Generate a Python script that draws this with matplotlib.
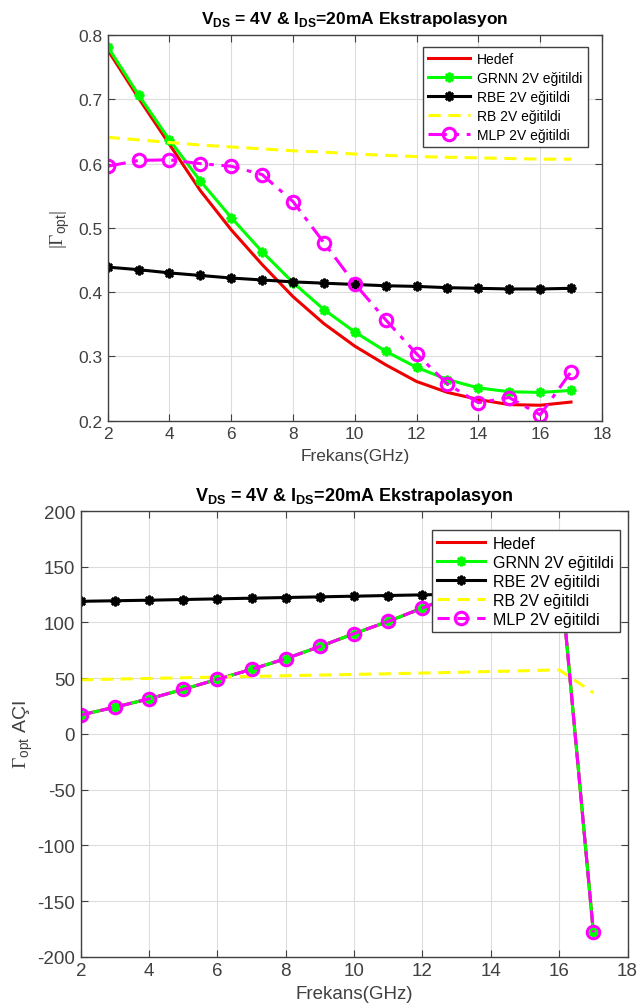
import numpy as np
import matplotlib
matplotlib.use("Agg")
import matplotlib.pyplot as plt

plt.rcParams['font.family'] = ['Liberation Sans', 'DejaVu Sans']
plt.rcParams['mathtext.fontset'] = 'custom'
plt.rcParams['mathtext.rm'] = 'Liberation Serif'
plt.rcParams['mathtext.sf'] = 'Liberation Sans'
plt.rcParams['mathtext.bf'] = 'Liberation Sans:bold'
plt.rcParams['axes.unicode_minus'] = False

freq = np.arange(2, 18)  # 2..17 GHz

# |Gamma_opt|
mag_hedef = [0.777, 0.702, 0.630, 0.558, 0.497, 0.443, 0.393, 0.351,
             0.316, 0.287, 0.261, 0.244, 0.233, 0.225, 0.224, 0.229]
mag_grnn = [0.782, 0.707, 0.637, 0.573, 0.516, 0.463, 0.415, 0.373,
            0.338, 0.308, 0.283, 0.264, 0.251, 0.245, 0.244, 0.247]
mag_rbe = [0.439, 0.435, 0.430, 0.426, 0.422, 0.419, 0.416, 0.414,
           0.412, 0.410, 0.409, 0.407, 0.406, 0.405, 0.405, 0.406]
mag_rb = [0.641, 0.637, 0.633, 0.629, 0.626, 0.623, 0.620, 0.618,
          0.615, 0.613, 0.611, 0.610, 0.609, 0.608, 0.607, 0.607]
mag_mlp = [0.596, 0.605, 0.606, 0.600, 0.596, 0.583, 0.541, 0.477,
           0.413, 0.357, 0.304, 0.257, 0.228, 0.236, 0.209, 0.276]

# Gamma_opt angle (degrees)
ang_hedef = [17, 24, 31.5, 40, 49, 58, 67.5, 78.5, 90, 101, 113, 125, 137, 148, 155, -178]
ang_grnn = [17, 24, 31.5, 40, 49, 58, 67.5, 78.5, 90, 101, 113, 125, 137, 148, 155, -178]
ang_rbe = [119, 119.5, 120, 120.6, 121.2, 121.8, 122.4, 123, 123.6, 124.2, 124.8,
           125.4, 126, 126.6, 127.2, 127.8]
ang_rb = [48.5, 49.2, 49.8, 50.4, 51.0, 51.6, 52.2, 52.8, 53.4, 54.0, 54.6,
          55.3, 56.0, 56.7, 57.5, 37]
ang_mlp = [17, 24, 31.5, 40, 49, 58, 67.5, 78.5, 90, 101, 113, 125, 137, 148, 155, -178]

labels = ['Hedef', 'GRNN 2V eğitildi', 'RBE 2V eğitildi', 'RB 2V eğitildi', 'MLP 2V eğitildi']
title = r'$\mathbf{V}_{\mathbf{DS}}$ = 4V & $\mathbf{I}_{\mathbf{DS}}$=20mA Ekstrapolasyon'
axcol = '#404040'
star = (8, 2, 0)


def style_axes(ax, fs):
    ax.grid(True, color='#dcdcdc', linewidth=0.8)
    ax.set_axisbelow(True)
    ax.tick_params(direction='in', top=True, right=True, labelsize=fs, colors=axcol,
                   length=5, pad=4)
    for s in ax.spines.values():
        s.set_color(axcol)
        s.set_linewidth(1.0)


def draw(ax, ys, mlp_ls, ms):
    ax.plot(freq, ys[0], color='#ee0000', lw=2.2, label=labels[0])
    ax.plot(freq, ys[1], color='#00ff00', lw=2.2, marker=star, ms=ms, mew=1.8,
            label=labels[1])
    ax.plot(freq, ys[2], color='black', lw=2.2, marker=star, ms=ms, mew=1.8,
            label=labels[2])
    ax.plot(freq, ys[3], color='yellow', lw=2.2, ls=(0, (4, 2.5)), label=labels[3])
    ax.plot(freq, ys[4], color='magenta', lw=2.2, ls=mlp_ls, marker='o', ms=9,
            mfc='none', mew=2.2, label=labels[4])


fig = plt.figure(figsize=(6.41, 10.04), dpi=100)

ax1 = fig.add_axes([0.168, 0.580, 0.771, 0.384])
draw(ax1, [mag_hedef, mag_grnn, mag_rbe, mag_rb, mag_mlp], (0, (6, 2.5, 1.5, 2.5)), 7)
ax1.set_xlim(2, 18)
ax1.set_ylim(0.2, 0.8)
ax1.set_xticks(np.arange(2, 19, 2))
ax1.set_yticks(np.arange(0.2, 0.81, 0.1))
style_axes(ax1, 12.5)
ax1.set_title(title, fontsize=12.5, fontweight='bold', pad=9)
ax1.set_xlabel('Frekans(GHz)', fontsize=12.5, color=axcol, labelpad=5)
ax1.set_ylabel(r'$|\Gamma_{\mathsf{opt}}|$', fontsize=14, color=axcol, labelpad=4)
ax1.legend(loc='upper right', fontsize=10, frameon=True, fancybox=False,
           edgecolor='#404040', framealpha=1, handlelength=3.0,
           borderpad=0.4, labelspacing=0.35, handletextpad=0.5,
           bbox_to_anchor=(0.986, 0.988))

ax2 = fig.add_axes([0.126, 0.046, 0.853, 0.444])
draw(ax2, [ang_hedef, ang_grnn, ang_rbe, ang_rb, ang_mlp], (0, (4, 2.5)), 7)
ax2.set_xlim(2, 18)
ax2.set_ylim(-200, 200)
ax2.set_xticks(np.arange(2, 19, 2))
ax2.set_yticks(np.arange(-200, 201, 50))
style_axes(ax2, 13.5)
ax2.set_title(title, fontsize=13, fontweight='bold', pad=8)
ax2.set_xlabel('Frekans(GHz)', fontsize=13.5, color=axcol, labelpad=4)
ax2.set_ylabel(r'$\Gamma_{\mathsf{opt}}$ AÇI', fontsize=14, color=axcol, labelpad=2)
ax2.legend(loc='upper right', fontsize=11.5, frameon=True, fancybox=False,
           edgecolor='#404040', framealpha=1, handlelength=3.0,
           borderpad=0.35, labelspacing=0.25, handletextpad=0.5,
           bbox_to_anchor=(1.0, 0.975))

fig.savefig('out.png', dpi=100)
